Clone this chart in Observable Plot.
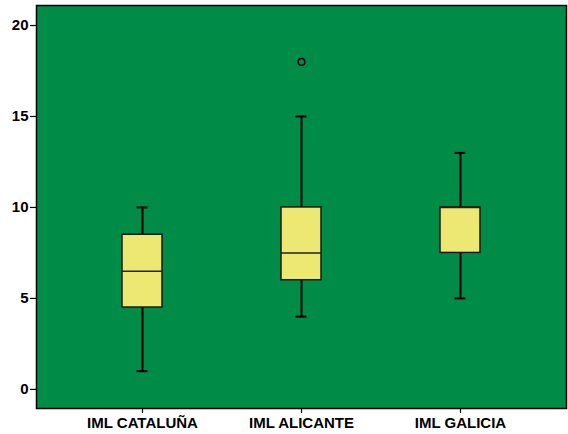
<!DOCTYPE html>
<html>
<head>
<meta charset="utf-8">
<script src="https://cdn.jsdelivr.net/npm/d3@7"></script>
<script src="https://cdn.jsdelivr.net/npm/@observablehq/plot@0.6"></script>
<style>
  html, body { margin: 0; padding: 0; background: #fff; }
  #chart svg { display: block; }
</style>
</head>
<body>
<div id="chart"></div>
<script>
const categories = ["IML CATALUÑA", "IML ALICANTE", "IML GALICIA"];
const whiskerLow = [1, 4, 5];
const q1 = [4.5, 6, 7.5];
const median = [6.5, 7.5, 10];
const q3 = [8.5, 10, 10];
const whiskerHigh = [10, 15, 13];
const outlierCategories = ["IML ALICANTE"];
const outlierValues = [18];
const yTicks = [0, 5, 10, 15, 20];

const rows = categories.map((c, i) => ({
  cat: c, lo: whiskerLow[i], q1: q1[i], med: median[i], q3: q3[i], hi: whiskerHigh[i]
}));
const outliers = outlierCategories.map((c, i) => ({cat: c, value: outlierValues[i]}));

const chart = Plot.plot({
  width: 568,
  height: 434,
  marginLeft: 36,
  marginRight: 2,
  marginTop: 5,
  marginBottom: 26,
  style: {fontFamily: "'Liberation Sans', Arial, sans-serif", fontWeight: "bold", fontSize: "15px", color: "#000", background: "#fff"},
  x: {type: "band", domain: categories, paddingInner: 0.75, paddingOuter: 0.54, label: null},
  y: {domain: [-1.05, 21.1], label: null},
  marks: [
    Plot.frame({fill: "#008C47", stroke: "#000", strokeWidth: 1.5}),
    Plot.axisY({ticks: yTicks, tickSize: 6, tickPadding: 2, label: null, stroke: "#000", strokeWidth: 1.2}),
    Plot.axisX({tickSize: 5, tickPadding: 4, label: null, stroke: "#000", strokeWidth: 1.2}),
    Plot.ruleX(rows, {x: "cat", y1: "lo", y2: "q1", stroke: "#000", strokeWidth: 2}),
    Plot.ruleX(rows, {x: "cat", y1: "q3", y2: "hi", stroke: "#000", strokeWidth: 2}),
    Plot.tickY(rows, {x: "cat", y: "lo", stroke: "#000", strokeWidth: 2, insetLeft: 14.5, insetRight: 14.5}),
    Plot.tickY(rows, {x: "cat", y: "hi", stroke: "#000", strokeWidth: 2, insetLeft: 14.5, insetRight: 14.5}),
    Plot.barY(rows, {x: "cat", y1: "q1", y2: "q3", fill: "#ECE872", stroke: "#1a1a1a", strokeWidth: 1.5}),
    Plot.tickY(rows, {x: "cat", y: "med", stroke: "#222", strokeWidth: 1.5}),
    Plot.dot(outliers, {x: "cat", y: "value", r: 3.3, stroke: "#000", strokeWidth: 1.5, fill: "none"})
  ]
});
document.getElementById("chart").appendChild(chart);
</script>
</body>
</html>
